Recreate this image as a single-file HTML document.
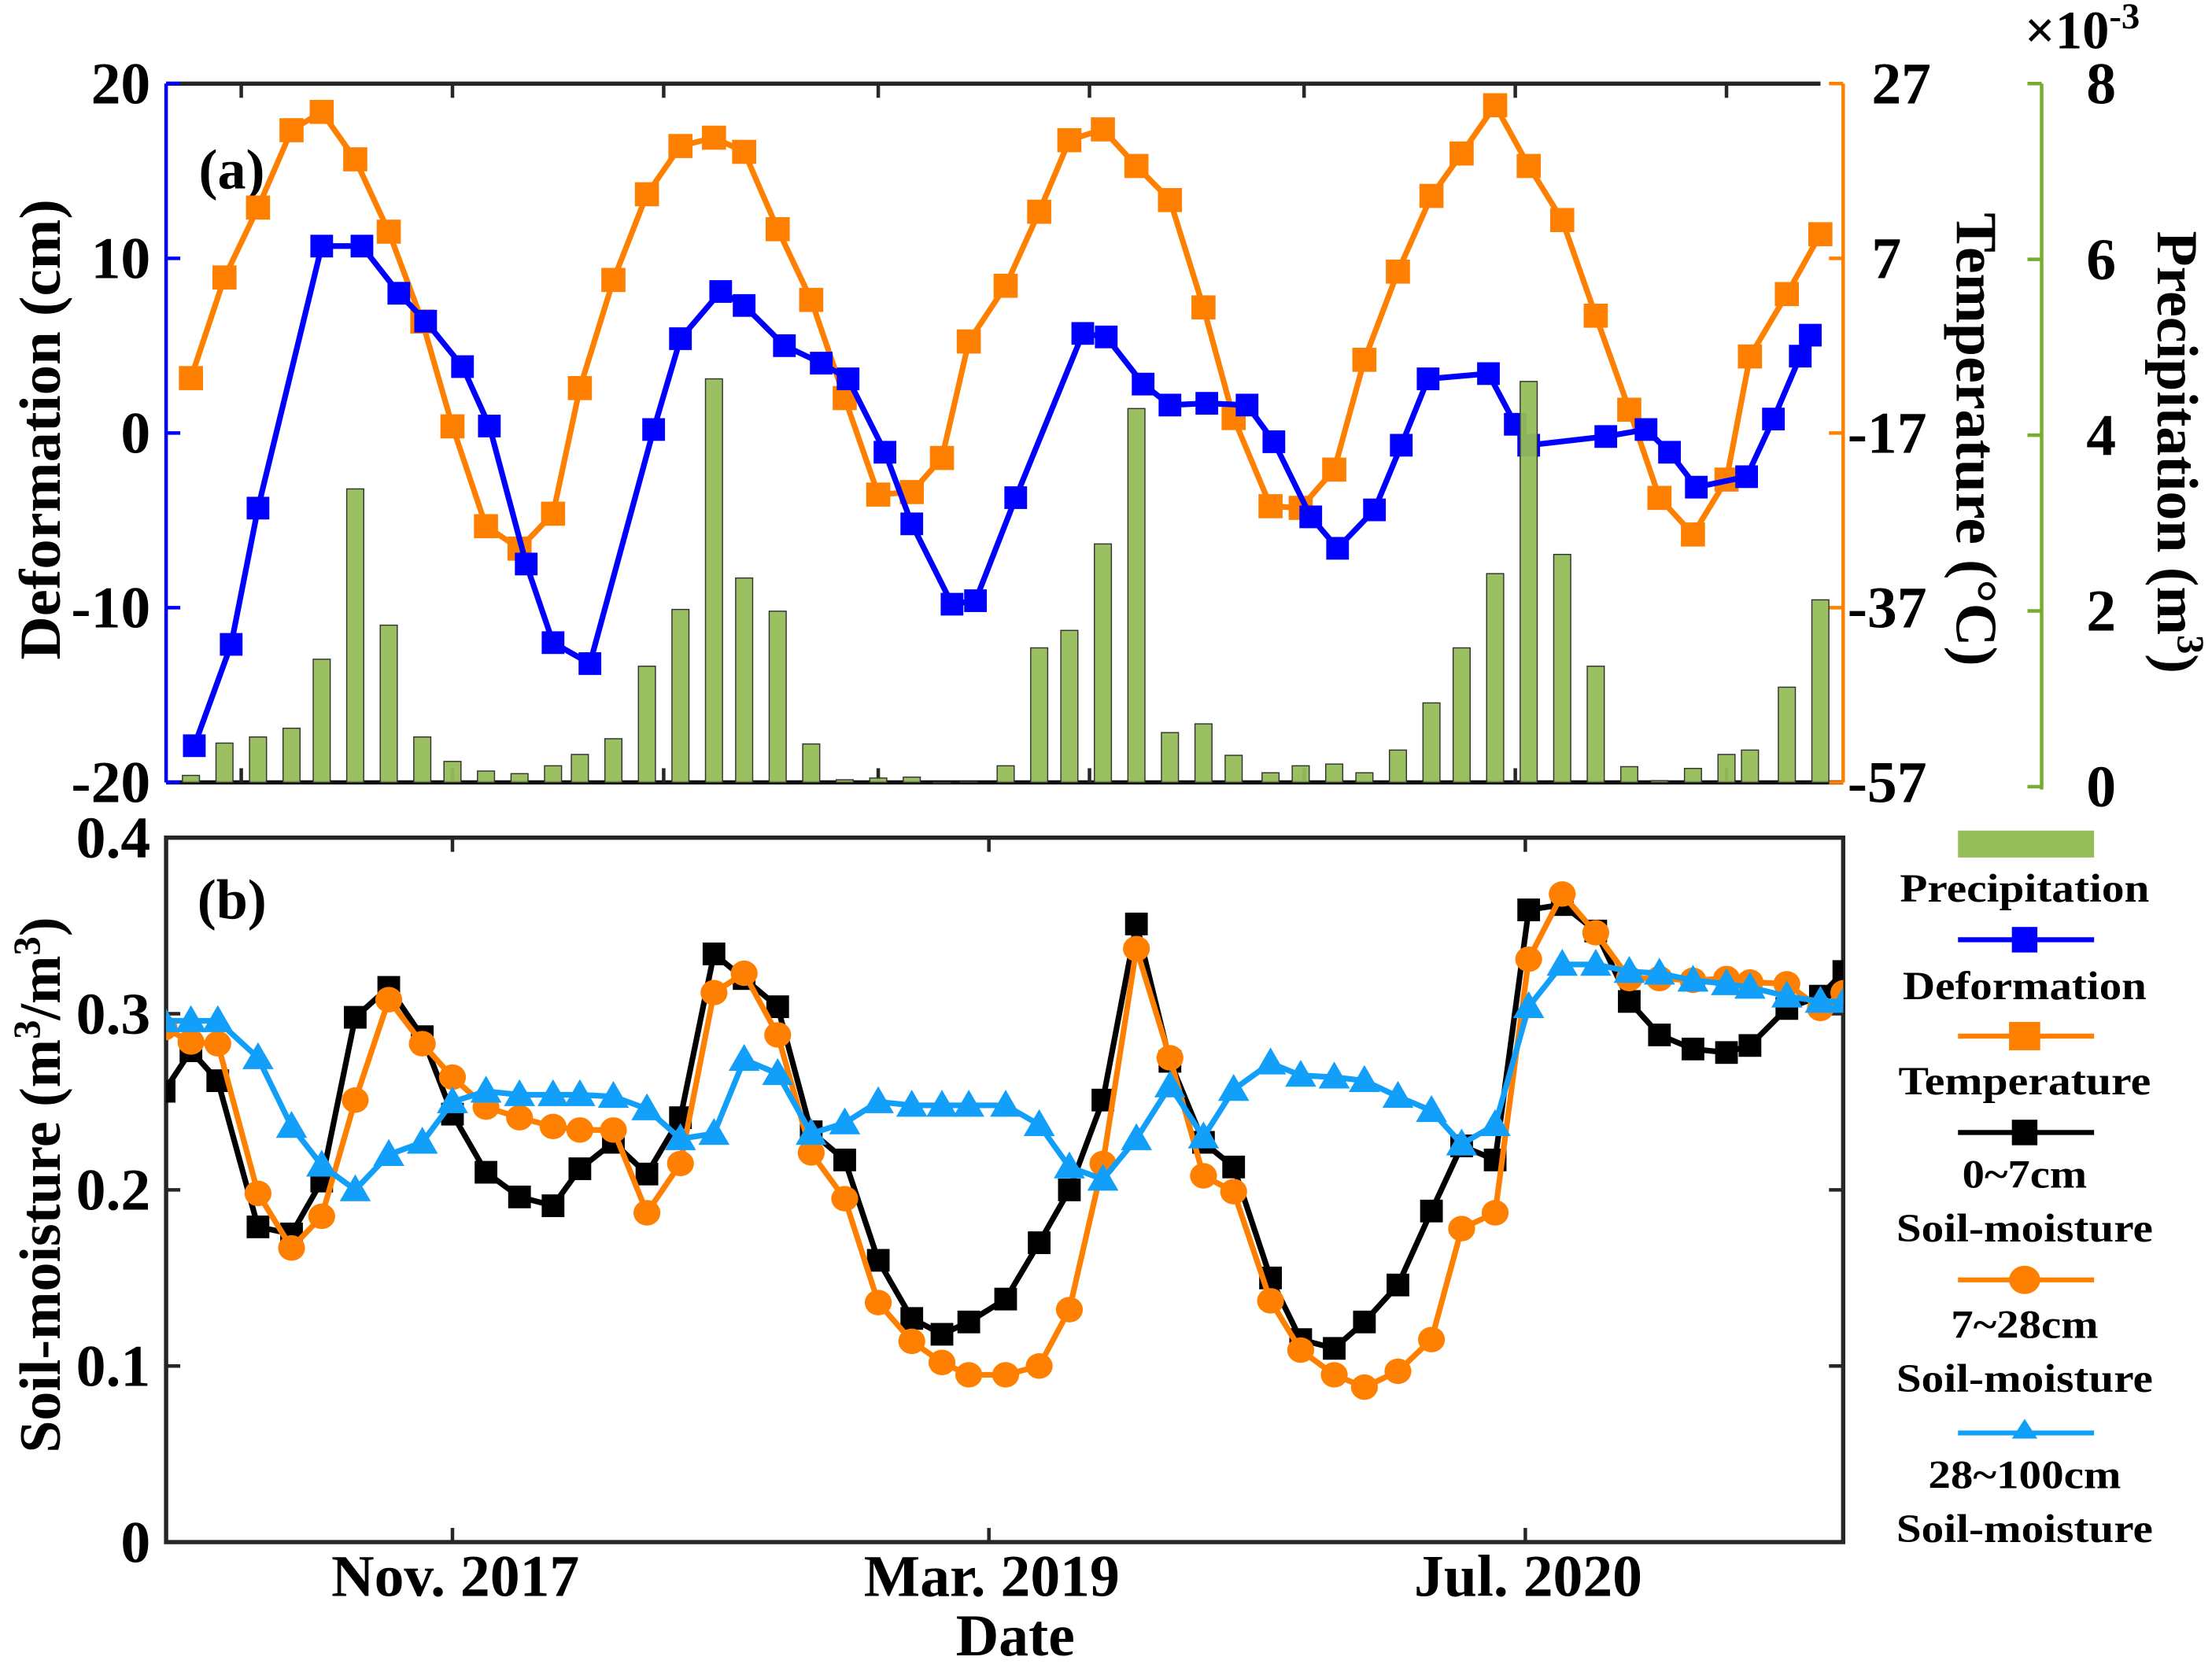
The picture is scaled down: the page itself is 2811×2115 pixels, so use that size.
<!DOCTYPE html>
<html><head><meta charset="utf-8">
<style>
html,body{margin:0;padding:0;background:#fff;}
svg{display:block;}
text{font-family:"Liberation Serif",serif;font-weight:bold;fill:#000;}
</style></head>
<body>
<svg id="chart" width="2811" height="2115" viewBox="0 0 1560 1174" xmlns="http://www.w3.org/2000/svg">
<defs>
<clipPath id="clipA"><rect x="117" y="40" width="1183" height="515"/></clipPath>
<clipPath id="clipB"><rect x="117" y="591" width="1183" height="497"/></clipPath>
</defs>
<g id="static">
<line x1="117" y1="59" x2="1284" y2="59" stroke="#262626" stroke-width="3"/>
<line x1="117" y1="552" x2="1300" y2="552" stroke="#111" stroke-width="3"/>
<line x1="117" y1="59" x2="117" y2="552" stroke="#0000ff" stroke-width="2.5"/>
<line x1="1300" y1="59" x2="1300" y2="552" stroke="#ff8000" stroke-width="2.5"/>
<line x1="1440" y1="59" x2="1440" y2="557" stroke="#77ac30" stroke-width="2.5"/>
<rect x="117" y="591" width="1183" height="497" fill="none" stroke="#262626" stroke-width="3"/>
<text x="140" y="133" font-size="40">(a)</text>
<text x="139" y="648" font-size="40">(b)</text>
<text transform="translate(42,303) rotate(-90)" text-anchor="middle" font-size="41" textLength="325" lengthAdjust="spacingAndGlyphs">Deformation (cm)</text>
<text transform="translate(42,836) rotate(-90)" text-anchor="middle" font-size="41">Soil-moisture (m<tspan dy="-14" font-size="27">3</tspan><tspan dy="14">/m</tspan><tspan dy="-14" font-size="27">3</tspan><tspan dy="14">)</tspan></text>
<text transform="translate(1380,310) rotate(90)" text-anchor="middle" font-size="41" textLength="320" lengthAdjust="spacingAndGlyphs">Temperature (°C)</text>
<text transform="translate(1522,319) rotate(90)" text-anchor="middle" font-size="41">Precipitation (m<tspan dy="-14" font-size="27">3</tspan><tspan dy="14">)</tspan></text>
<text x="1428" y="34" font-size="38">×10<tspan dy="-14" font-size="26">-3</tspan></text>
<text x="716" y="1168" text-anchor="middle" font-size="42">Date</text>
</g>
<g id="marks"></g>
<g id="legend">
<rect x="1381" y="586" width="96" height="19" fill="#95bd58"/>
<text x="1428" y="636" text-anchor="middle" font-size="28" textLength="176" lengthAdjust="spacingAndGlyphs">Precipitation</text>
<line x1="1381" y1="663" x2="1477" y2="663" stroke="#0000ff" stroke-width="3.5"/>
<rect x="1419" y="654" width="18" height="18" fill="#0000ff"/>
<text x="1428" y="705" text-anchor="middle" font-size="28" textLength="172" lengthAdjust="spacingAndGlyphs">Deformation</text>
<line x1="1381" y1="731" x2="1477" y2="731" stroke="#ff8000" stroke-width="3.5"/>
<rect x="1417" y="721" width="22" height="20" fill="#ff8000"/>
<text x="1428" y="772" text-anchor="middle" font-size="28" textLength="178" lengthAdjust="spacingAndGlyphs">Temperature</text>
<line x1="1381" y1="799" x2="1477" y2="799" stroke="#000" stroke-width="3.5"/>
<rect x="1419" y="790" width="18" height="18" fill="#000"/>
<text x="1428" y="838" text-anchor="middle" font-size="28" textLength="88" lengthAdjust="spacingAndGlyphs">0~7cm</text>
<text x="1428" y="876" text-anchor="middle" font-size="28" textLength="181" lengthAdjust="spacingAndGlyphs">Soil-moisture</text>
<line x1="1381" y1="903" x2="1477" y2="903" stroke="#ff8000" stroke-width="3.5"/>
<ellipse cx="1428" cy="903" rx="11" ry="10" fill="#ff8000"/>
<text x="1428" y="944" text-anchor="middle" font-size="28" textLength="104" lengthAdjust="spacingAndGlyphs">7~28cm</text>
<text x="1428" y="982" text-anchor="middle" font-size="28" textLength="181" lengthAdjust="spacingAndGlyphs">Soil-moisture</text>
<line x1="1381" y1="1011" x2="1477" y2="1011" stroke="#129ffa" stroke-width="3.5"/>
<polygon points="1428,1001 1419,1015 1437,1015" fill="#129ffa"/>
<text x="1428" y="1050" text-anchor="middle" font-size="28" textLength="136" lengthAdjust="spacingAndGlyphs">28~100cm</text>
<text x="1428" y="1088" text-anchor="middle" font-size="28" textLength="181" lengthAdjust="spacingAndGlyphs">Soil-moisture</text>
</g>
</svg>
<script>
// ---- data (months relative to Nov. 2017) ----
const defMonths = [-7.7,-6.6,-5.8,-3.9,-2.7,-1.6,-0.8,0.3,1.1,2.2,3.0,4.1,6.0,6.8,8.0,8.7,9.9,11.0,11.8,12.9,13.7,14.9,15.6,16.8,18.8,19.5,20.6,21.4,22.5,23.7,24.5,25.6,26.4,27.5,28.3,29.1,30.9,31.7,32.1,34.4,35.6,36.3,37.1,38.6,39.4,40.2,40.5];
const defValues = [-17.9,-12.1,-4.3,10.7,10.7,8.0,6.4,3.8,0.4,-7.5,-12.0,-13.2,0.2,5.4,8.1,7.3,5.0,4.0,3.1,-1.1,-5.2,-9.8,-9.6,-3.7,5.7,5.5,2.8,1.6,1.7,1.6,-0.5,-4.8,-6.6,-4.4,-0.7,3.1,3.4,0.5,-0.7,-0.2,0.2,-1.1,-3.1,-2.5,0.8,4.4,5.6];
const monthly = [-7.8,-6.8,-5.8,-4.8,-3.9,-2.9,-1.9,-0.9,0.0,1.0,2.0,3.0,3.8,4.8,5.8,6.8,7.8,8.7,9.7,10.7,11.7,12.7,13.7,14.6,15.4,16.5,17.5,18.4,19.4,20.4,21.4,22.4,23.3,24.4,25.3,26.3,27.2,28.2,29.2,30.1,31.1,32.1,33.1,34.1,35.1,36.0,37.0,38.0,38.7,39.8,40.8];
const tempValues = [-8.4,3.7,12.1,21.4,23.6,17.9,9.2,-1.6,-14.2,-26.2,-28.9,-24.7,-9.6,3.4,13.7,19.5,20.5,18.8,9.5,1.0,-10.8,-22.4,-22.1,-18.0,-4.0,2.7,11.6,20.2,21.5,17.1,13.0,0.1,-13.2,-23.8,-24.0,-19.4,-6.2,4.4,13.5,18.6,24.4,17.1,10.6,-0.9,-12.2,-22.8,-27.2,-20.6,-5.8,1.7,8.9];
const precipValues = [0.08,0.45,0.52,0.62,1.41,3.36,1.80,0.52,0.24,0.13,0.10,0.19,0.32,0.50,1.33,1.98,4.62,2.34,1.96,0.44,0.03,0.05,0.06,0.0,0.01,0.19,1.54,1.74,2.73,4.28,0.57,0.67,0.31,0.11,0.19,0.21,0.11,0.37,0.91,1.54,2.39,4.59,2.61,1.33,0.18,0.02,0.16,0.32,0.37,1.09,2.09];
const soilMonths = [-8.6,-7.8,-7.0,-5.8,-4.8,-3.9,-2.9,-1.9,-0.9,0.0,1.0,2.0,3.0,3.8,4.8,5.8,6.8,7.8,8.7,9.7,10.7,11.7,12.7,13.7,14.6,15.4,16.5,17.5,18.4,19.4,20.4,21.4,22.4,23.3,24.4,25.3,26.3,27.2,28.2,29.2,30.1,31.1,32.1,33.1,34.1,35.1,36.0,37.0,38.0,38.7,39.8,40.8,41.5];
const soil07 = [0.256,0.279,0.262,0.179,0.175,0.205,0.298,0.315,0.287,0.243,0.210,0.196,0.191,0.212,0.227,0.209,0.241,0.334,0.320,0.304,0.233,0.217,0.160,0.127,0.118,0.125,0.138,0.170,0.200,0.251,0.351,0.273,0.227,0.213,0.150,0.115,0.110,0.125,0.146,0.188,0.225,0.217,0.359,0.362,0.347,0.307,0.288,0.280,0.278,0.282,0.303,0.310,0.324];
const soil728 = [0.292,0.284,0.283,0.198,0.167,0.185,0.251,0.308,0.283,0.264,0.247,0.241,0.236,0.234,0.234,0.187,0.215,0.312,0.323,0.288,0.221,0.195,0.136,0.114,0.102,0.095,0.095,0.100,0.132,0.215,0.337,0.275,0.208,0.199,0.137,0.109,0.095,0.088,0.097,0.115,0.178,0.187,0.331,0.368,0.346,0.320,0.320,0.319,0.320,0.318,0.317,0.303,0.312];
const soil28100 = [0.296,0.296,0.296,0.275,0.236,0.214,0.200,0.220,0.227,0.250,0.256,0.254,0.254,0.254,0.253,0.246,0.229,0.232,0.274,0.266,0.232,0.238,0.250,0.248,0.248,0.248,0.248,0.237,0.213,0.206,0.229,0.259,0.230,0.257,0.272,0.265,0.264,0.262,0.253,0.245,0.226,0.237,0.304,0.328,0.328,0.324,0.323,0.319,0.317,0.315,0.310,0.307,0.307];
const defTicks = [20,10,0,-10,-20];
const tempTickLabels = ["27","7","-17","-37","-57"];
const precipTicks = [8,6,4,2,0];
const soilTicks = [0.4,0.3,0.2,0.1,0];
const dateTickMonths = [0,16,32];
const dateTickLabels = ["Nov. 2017","Mar. 2019","Jul. 2020"];
const topTickMonths = [-6.3,0,6.3,12.7,19.0,25.4,31.7,38.0];

// ---- scales ----
const X = m => 319 + m*23.65;
const yDef = v => 59 + (20 - v)/40*493;
const yTemp = v => 59 + (27 - v)/84*493;
const yPre = v => 552 - v/8*493;
const ySoil = v => 1088 - v/0.4*497;

const NS = "http://www.w3.org/2000/svg";
const marks = document.getElementById('marks');
function mk(tag, attrs, parent){
  const e = document.createElementNS(NS, tag);
  for (const k in attrs) e.setAttribute(k, attrs[k]);
  (parent||marks).appendChild(e);
  return e;
}
function grp(name, clip){
  const g = mk('g', clip ? {'clip-path':'url(#'+clip+')'} : {});
  
  
  return g;
}

const tA = grp('panel-a-ticks');
defTicks.forEach(v => {
  const y = yDef(v);
  const l = mk('line', {x1:117,y1:y,x2:127,y2:y,stroke:'#0000ff','stroke-width':2.5}, tA);
  
  
  const t = mk('text', {x:106,y:y+14,'text-anchor':'end','font-size':42}, tA);
  
  
  t.textContent = v;
});
tempTickLabels.forEach((s,i) => {
  const y = 59 + i*493/4;
  const l = mk('line', {x1:1290,y1:y,x2:1300,y2:y,stroke:'#ff8000','stroke-width':2.5}, tA);
  
  
  const t = mk('text', {x:s.startsWith('-')?1303:1320,y:y+14,'font-size':42}, tA);
  
  
  t.textContent = s;
});
precipTicks.forEach(v => {
  const y = 59 + (8-v)/8*496;
  const l = mk('line', {x1:1430,y1:y,x2:1440,y2:y,stroke:'#77ac30','stroke-width':2.5}, tA);
  
  
  const t = mk('text', {x:1482,y:y+14,'text-anchor':'middle','font-size':42}, tA);
  
  
  t.textContent = v;
});
topTickMonths.forEach(m => {
  const x = X(m);
  const l = mk('line', {x1:x,y1:59,x2:x,y2:69,stroke:'#262626','stroke-width':2.5}, tA);
  
  
  const l2 = mk('line', {x1:x,y1:552,x2:x,y2:542,stroke:'#262626','stroke-width':2.5}, tA);
  
  
});

const tB = grp('panel-b-ticks');
soilTicks.forEach(v => {
  const y = ySoil(v);
  const l = mk('line', {x1:117,y1:y,x2:127,y2:y,stroke:'#262626','stroke-width':2.5}, tB);
  
  
  const l2 = mk('line', {x1:1290,y1:y,x2:1300,y2:y,stroke:'#262626','stroke-width':2.5}, tB);
  
  
  const t = mk('text', {x:106,y:y+14,'text-anchor':'end','font-size':42}, tB);
  
  
  t.textContent = v === 0 ? '0' : v.toFixed(1);
});
dateTickMonths.forEach((m,i) => {
  const x = X(m);
  const l = mk('line', {x1:x,y1:1088,x2:x,y2:1078,stroke:'#262626','stroke-width':2.5}, tB);
  
  
  const l2 = mk('line', {x1:x,y1:591,x2:x,y2:601,stroke:'#262626','stroke-width':2.5}, tB);
  
  
  const t = mk('text', {x:x+2,y:1126,'text-anchor':'middle','font-size':42}, tB);
  
  
  t.textContent = dateTickLabels[i];
});

function line(g, xs, ys, color){
  const p = mk('polyline', {points: xs.map((x,i)=>x+','+ys[i]).join(' '), fill:'none', stroke:color, 'stroke-width':4, 'stroke-linejoin':'round'}, g);
  
  
}
function squares(g, xs, ys, color, s, name){
  xs.forEach((x,i) => {
    const r = mk('rect', {x:x-s/2, y:ys[i]-s/2, width:s, height:s, fill:color}, g);
    
    
  });
}

const gT = grp('temperature-series', 'clipA');
const tx = monthly.map(X), ty = tempValues.map(yTemp);
line(gT, tx, ty, '#ff8000');
squares(gT, tx, ty, '#ff8000', 17, 'temperature-point');
const gD = grp('deformation-series', 'clipA');
const dx = defMonths.map(X), dy = defValues.map(yDef);
line(gD, dx, dy, '#0000ff');
squares(gD, dx, dy, '#0000ff', 16, 'deformation-point');
const gP = grp('precipitation-bars', 'clipA');
monthly.forEach((m,i) => {
  const x = X(m), y = yPre(precipValues[i]);
  const b = mk('rect', {x:x-6, y:y, width:12, height:Math.max(552-y,0.5), fill:'#95bd58', stroke:'#333', 'stroke-width':0.8, 'fill-opacity':0.95}, gP);
  
  
});

const sx = soilMonths.map(X);
const g07 = grp('soil-0-7-series', 'clipB');
const y07 = soil07.map(ySoil);
line(g07, sx, y07, '#000');
squares(g07, sx, y07, '#000', 16, 'soil-0-7-point');
const g728 = grp('soil-7-28-series', 'clipB');
const y728 = soil728.map(ySoil);
line(g728, sx, y728, '#ff8000');
sx.forEach((x,i) => {
  const c = mk('ellipse', {cx:x, cy:y728[i], rx:9.5, ry:9, fill:'#ff8000'}, g728);
  
  
});
const g28 = grp('soil-28-100-series', 'clipB');
const y28 = soil28100.map(ySoil);
line(g28, sx, y28, '#129ffa');
sx.forEach((x,i) => {
  const y = y28[i];
  const p = mk('polygon', {points:(x)+','+(y-11)+' '+(x-11)+','+(y+8)+' '+(x+11)+','+(y+8), fill:'#129ffa'}, g28);
  
  
});
</script>
</body></html>
